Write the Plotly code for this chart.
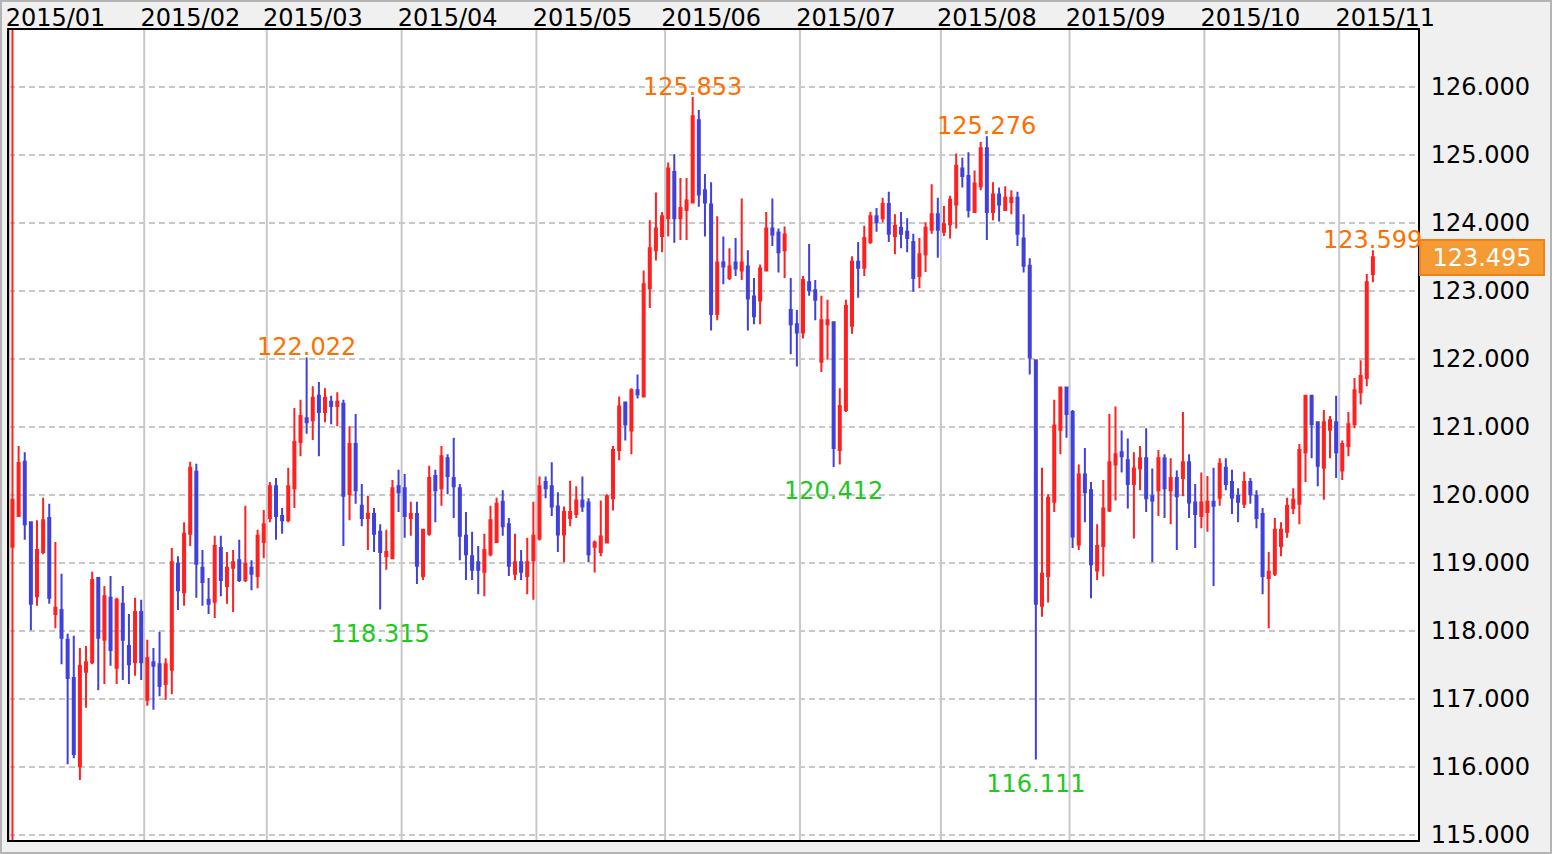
import plotly.graph_objects as go
import pandas as pd

# ---------------- data (USD/JPY daily, 2015-01-01 .. 2015-11-09, weekdays) ----------------
dates = [d.strftime("%Y-%m-%d") for d in pd.bdate_range("2015-01-01", "2015-11-09")]

opens = [
    # Jan
    119.24, 119.69, 120.49, 119.60, 118.51, 119.16, 119.66, 118.25, 118.31, 117.87, 117.31,
    116.01, 117.40, 117.54, 118.78, 117.87, 118.49, 117.46, 118.40, 117.78, 117.54, 118.28,
    # Feb
    116.99, 117.54, 117.51, 117.22, 117.43, 118.99, 118.57, 119.43, 120.34, 118.93,
    118.46, 118.43, 119.22, 118.66, 118.93, 119.04, 118.75, 118.93, 118.81, 119.31,
    # Mar
    119.66, 120.13, 119.69, 119.63, 120.10, 120.78, 121.13, 121.10, 121.46, 121.22, 121.37,
    121.31, 121.34, 120.01, 120.75, 119.84, 119.66, 119.72, 119.46, 119.10, 119.07, 120.13,
    # Apr
    120.10, 119.66, 119.72, 118.81, 119.43, 120.28, 120.10, 120.54, 120.25, 120.10, 119.40,
    119.10, 119.01, 118.87, 119.13, 119.31, 119.90, 119.57, 118.84, 119.01, 118.81, 119.04,
    # May
    119.36, 120.19, 120.13, 119.83, 119.42, 119.66, 119.72, 119.92, 119.89, 119.24, 119.16,
    119.30, 119.95, 120.66, 121.36, 120.95, 121.54, 121.45, 123.04, 123.60, 123.81,
    # Jun
    124.07, 124.75, 124.07, 124.19, 124.30, 125.51, 124.48, 124.27, 122.66, 123.42, 123.19,
    123.42, 123.30, 123.36, 122.92, 122.86, 123.30, 123.92, 123.86, 123.60, 122.72, 122.51,
    # Jul
    122.39, 123.13, 123.01, 121.96, 122.51, 122.54, 120.66, 121.25, 122.49, 123.43, 123.34, 123.72,
    124.10, 124.07, 124.28, 123.81, 123.93, 123.87, 123.72, 123.22, 123.54, 123.90, 124.13,
    # Aug
    123.87, 123.98, 124.27, 124.80, 124.69, 124.16, 124.54, 125.10, 124.16, 124.42, 124.19,
    124.31, 124.37, 123.77, 123.37, 121.98, 118.37, 118.81, 119.90, 120.96, 121.58,
    # Sep
    121.22, 119.27, 120.30, 120.07, 118.89, 119.25, 119.77, 120.45, 120.63, 120.51, 120.16,
    120.39, 120.54, 119.98, 120.07, 120.54, 120.07, 120.25, 120.25, 120.48, 119.89, 119.69,
    # Oct
    119.75, 119.90, 119.96, 120.40, 120.19, 119.99, 119.87, 120.19, 119.99, 119.72, 118.78,
    118.84, 119.25, 119.46, 119.81, 119.87, 120.63, 121.46, 121.07, 120.40, 120.96, 121.07,
    # Nov
    120.36, 120.72, 121.04, 121.51, 121.72, 123.25,
]

highs = [
    # Jan
    128.00, 120.72, 120.63, 119.60, 119.63, 119.96, 119.87, 119.31, 118.84, 117.96, 117.93,
    117.75, 117.78, 118.87, 118.78, 118.66, 118.81, 118.49, 118.66, 118.25, 118.49, 118.46,
    # Feb
    117.87, 117.75, 117.99, 117.60, 119.22, 119.10, 119.60, 120.49, 120.46, 119.19,
    118.78, 119.40, 119.40, 119.16, 119.19, 119.34, 119.84, 119.04, 119.49, 119.78,
    # Mar
    120.19, 120.25, 119.81, 120.40, 121.28, 121.40, 122.022, 121.60, 121.66, 121.57, 121.46,
    121.51, 121.40, 121.01, 121.19, 120.16, 119.99, 119.81, 119.57, 119.49, 120.22, 120.37,
    # Apr
    120.31, 119.90, 119.90, 119.49, 120.43, 120.37, 120.72, 120.60, 120.84, 120.16, 119.75,
    119.46, 119.25, 119.43, 119.84, 119.96, 120.07, 119.66, 119.43, 119.19, 119.37, 119.90,
    # May
    120.27, 120.27, 120.48, 120.04, 119.83, 120.21, 120.13, 120.27, 119.95, 119.33, 119.92,
    120.01, 120.72, 121.45, 121.36, 121.57, 121.77, 123.30, 124.04, 124.45, 124.16,
    # Jun
    124.89, 125.01, 124.66, 124.66, 125.853, 125.66, 124.72, 124.60, 124.10, 123.80, 123.63,
    123.78, 124.36, 123.60, 123.19, 123.39, 124.16, 124.36, 123.92, 123.95, 123.19, 122.72,
    # Jul
    123.22, 123.69, 123.16, 122.93, 122.87, 122.54, 121.57, 122.87, 123.51, 123.72, 123.96, 124.16,
    124.22, 124.37, 124.46, 124.13, 124.16, 124.07, 123.84, 123.78, 124.01, 124.57, 124.37,
    # Aug
    124.25, 124.40, 125.02, 124.96, 125.04, 124.77, 125.19, 125.276, 124.60, 124.52, 124.54,
    124.48, 124.46, 124.13, 123.48, 121.98, 120.40, 120.01, 121.40, 121.58, 121.58,
    # Sep
    121.25, 120.45, 120.69, 120.19, 119.57, 120.22, 121.19, 121.30, 120.95, 120.83, 120.63,
    120.72, 120.98, 120.39, 120.66, 120.60, 120.54, 120.36, 121.22, 120.60, 120.16, 120.33,
    # Oct
    120.28, 120.40, 120.54, 120.54, 120.37, 120.10, 120.34, 120.25, 120.07, 119.81, 119.16,
    119.66, 119.60, 119.96, 120.10, 120.75, 121.46, 121.46, 121.07, 121.25, 121.16, 121.46,
    # Nov
    120.80, 121.22, 121.72, 121.98, 123.25, 123.599,
]

lows = [
    # Jan
    114.00, 119.69, 119.34, 118.01, 118.37, 119.13, 118.40, 118.04, 117.51, 116.04, 116.13,
    115.81, 116.87, 117.51, 117.13, 117.22, 117.49, 117.22, 117.28, 117.22, 117.34, 117.28,
    # Feb
    116.90, 116.84, 117.04, 116.99, 117.07, 118.31, 118.37, 119.25, 118.49, 118.37,
    118.25, 118.19, 118.51, 118.40, 118.28, 118.72, 118.72, 118.60, 118.63, 119.07,
    # Mar
    119.60, 119.34, 119.43, 119.60, 119.81, 120.57, 120.90, 120.81, 120.57, 121.07, 121.04,
    121.01, 119.25, 119.63, 119.87, 119.54, 119.19, 119.16, 118.315, 118.90, 119.07, 119.75,
    # Apr
    119.37, 119.40, 118.69, 118.75, 119.40, 119.60, 119.84, 120.01, 119.66, 119.04, 118.75,
    118.75, 118.54, 118.51, 119.10, 119.31, 119.40, 118.81, 118.75, 118.75, 118.54, 118.46,
    # May
    119.33, 119.95, 119.69, 119.16, 119.01, 119.54, 119.66, 119.75, 119.01, 118.86, 119.10,
    119.30, 119.77, 120.51, 120.80, 120.60, 121.42, 121.45, 122.75, 123.45, 123.57,
    # Jun
    123.80, 123.71, 123.75, 123.75, 124.30, 124.24, 123.80, 122.42, 122.57, 123.10, 123.16,
    123.22, 123.16, 122.42, 122.51, 122.51, 123.30, 123.66, 123.27, 123.19, 122.07, 121.89,
    # Jul
    122.30, 122.93, 122.57, 121.81, 121.99, 120.412, 120.45, 121.22, 122.37, 122.90, 123.22, 123.69,
    123.87, 124.01, 123.72, 123.54, 123.63, 123.57, 122.99, 123.04, 123.28, 123.84, 123.49,
    # Aug
    123.81, 123.77, 123.92, 124.52, 124.08, 124.16, 124.48, 123.75, 124.04, 124.02, 124.19,
    124.13, 123.66, 123.27, 121.77, 116.111, 118.21, 118.42, 119.75, 120.60, 120.84,
    # Sep
    119.22, 119.19, 119.60, 118.48, 118.75, 118.80, 119.75, 119.92, 120.33, 119.80, 119.36,
    120.07, 119.75, 119.01, 119.69, 119.66, 119.57, 119.19, 119.98, 119.66, 119.22, 119.51,
    # Oct
    119.46, 118.66, 119.84, 120.07, 119.72, 119.60, 119.81, 119.87, 119.51, 118.54, 118.04,
    118.81, 119.10, 119.37, 119.72, 119.57, 120.19, 120.54, 120.13, 119.93, 120.54, 120.25,
    # Nov
    120.22, 120.57, 120.98, 121.33, 121.60, 123.13,
]

closes = [
    # Jan
    119.93, 120.47, 119.57, 118.40, 119.19, 119.63, 118.49, 118.34, 117.90, 117.31, 116.19,
    117.49, 117.54, 118.75, 117.90, 118.51, 117.72, 118.46, 117.87, 117.51, 118.28, 117.54,
    # Feb
    117.60, 117.49, 117.19, 117.51, 119.01, 118.60, 119.43, 120.40, 118.99, 118.72,
    118.40, 119.25, 118.75, 118.93, 119.01, 118.75, 118.99, 118.84, 119.40, 119.57,
    # Mar
    120.13, 119.69, 119.63, 120.13, 120.78, 121.16, 121.07, 121.43, 121.22, 121.43, 121.31,
    121.37, 119.99, 120.75, 120.07, 119.66, 119.72, 119.43, 119.16, 119.16, 120.10, 120.04,
    # Apr
    119.69, 119.72, 118.96, 119.49, 120.25, 120.07, 120.57, 120.28, 120.13, 119.40, 119.13,
    118.90, 118.90, 119.19, 119.63, 119.87, 119.54, 118.96, 119.01, 118.87, 119.01, 119.40,
    # May
    120.13, 120.10, 119.83, 119.42, 119.75, 119.75, 119.92, 119.83, 119.13, 119.30, 119.39,
    119.98, 120.66, 121.30, 121.04, 121.54, 121.48, 123.10, 123.63, 123.92, 124.10,
    # Jun
    124.80, 124.07, 124.22, 124.33, 125.57, 124.42, 124.30, 122.66, 123.42, 123.36, 123.36,
    123.33, 123.42, 122.89, 122.63, 123.33, 123.92, 123.83, 123.57, 123.83, 122.51, 122.39,
    # Jul
    123.16, 123.01, 122.87, 122.57, 122.57, 120.69, 121.31, 122.78, 123.43, 123.34, 123.78, 124.10,
    124.01, 124.28, 123.84, 123.96, 123.84, 123.78, 123.19, 123.54, 123.93, 124.13, 123.90,
    # Aug
    123.98, 124.34, 124.84, 124.69, 124.19, 124.58, 125.10, 124.16, 124.42, 124.27, 124.37,
    124.37, 123.84, 123.37, 122.02, 118.40, 118.84, 119.96, 121.02, 121.58, 121.19,
    # Sep
    119.39, 120.30, 120.04, 118.98, 119.25, 119.80, 120.48, 120.60, 120.57, 120.16, 120.39,
    120.54, 119.95, 119.92, 120.54, 120.10, 120.25, 119.98, 120.48, 119.89, 119.72, 119.89,
    # Oct
    119.90, 119.84, 120.46, 120.16, 119.96, 119.90, 120.19, 120.01, 119.66, 118.81, 118.87,
    119.49, 119.49, 119.84, 119.93, 120.66, 121.46, 121.04, 120.43, 121.07, 121.10, 120.63,
    # Nov
    120.75, 121.04, 121.54, 121.75, 123.13, 123.495,
]

month_starts = ["2015-01-01", "2015-02-02", "2015-03-02", "2015-04-01", "2015-05-01", "2015-06-01",
                "2015-07-01", "2015-08-03", "2015-09-01", "2015-10-01", "2015-11-02"]
month_labels = ["2015/01", "2015/02", "2015/03", "2015/04", "2015/05", "2015/06",
                "2015/07", "2015/08", "2015/09", "2015/10", "2015/11"]
y_ticks = [115, 116, 117, 118, 119, 120, 121, 122, 123, 124, 125, 126]

peak_dates = ["2015-03-10", "2015-06-05", "2015-08-12", "2015-11-09"]
peak_values = [122.022, 125.853, 125.276, 123.599]
trough_dates = ["2015-03-26", "2015-07-08", "2015-08-24"]
trough_values = [118.315, 120.412, 116.111]
last_price = 123.495

# ---------------- figure ----------------
RED = "#FF2020"
BLUE = "#4040DC"
GRID = "#c8c8c8"
FONT = "DejaVu Sans"

fig = go.Figure()
fig.add_trace(go.Candlestick(
    x=dates, open=opens, high=highs, low=lows, close=closes,
    increasing=dict(line=dict(color=RED, width=2), fillcolor=RED),
    decreasing=dict(line=dict(color=BLUE, width=2), fillcolor=BLUE),
    whiskerwidth=0, hoverinfo="skip", showlegend=False,
))
fig.add_trace(go.Scatter(
    x=trough_dates, y=trough_values, mode="markers+text",
    marker=dict(size=21, color="rgba(0,0,0,0)"),
    text=[f"{v:.3f}" for v in trough_values], textposition="bottom center",
    textfont=dict(family=FONT, size=24, color="#20C820"),
    cliponaxis=True, hoverinfo="skip", showlegend=False,
))

W, H = 1552, 854
ML, MR, MT, MB = 9, 134, 30, 14
PW, PH = W - ML - MR, H - MT - MB

fig.update_layout(
    width=W, height=H,
    margin=dict(l=ML, r=MR, t=MT, b=MB, pad=0, autoexpand=False),
    paper_bgcolor="#f0f0f0", plot_bgcolor="white",
    font=dict(family=FONT, size=24, color="black"),
    showlegend=False, hovermode=False,
    boxgap=0.67, boxgroupgap=0,
    xaxis=dict(
        type="category", range=[-0.57, 229.36], side="top",
        tickmode="array", tickvals=month_starts, ticktext=month_labels,
        ticks="", tickangle=0, automargin=False,
        ticklabelshift=43, ticklabelstandoff=-8,
        showgrid=False,
        showline=True, mirror=True, linecolor="black", linewidth=2,
        zeroline=False, fixedrange=True,
        rangeslider=dict(visible=False),
        tickfont=dict(family=FONT, size=24, color="black"),
    ),
    yaxis=dict(
        side="right", range=[114.926, 126.838], automargin=False,
        tickmode="array", tickvals=y_ticks, tickformat=".3f", ticks="",
        ticklabelstandoff=6,
        showgrid=True, gridcolor=GRID, gridwidth=1.5, griddash="6px,4px",
        showline=True, mirror=True, linecolor="black", linewidth=2,
        zeroline=False, fixedrange=True,
        tickfont=dict(family=FONT, size=24, color="black"),
    ),
)

# month separators at the boundary before the first trading day of each month
for m in month_starts:
    xb = dates.index(m) - 0.5
    fig.add_shape(type="line", xref="x", yref="paper", x0=xb, x1=xb, y0=0, y1=1,
                  line=dict(color=GRID, width=2), layer="below")

# peak labels (just above the high of the candle)
for d, v in zip(peak_dates, peak_values):
    fig.add_annotation(
        xref="x", x=d, yref="y", y=v, yanchor="bottom", yshift=-6,
        text=f"{v:.3f}", showarrow=False,
        font=dict(family=FONT, size=24, color="#FF6E00"),
    )

# current price box on the right axis
fig.add_annotation(
    xref="paper", x=1, xanchor="left", xshift=1,
    yref="y", y=last_price, yanchor="middle",
    text=f"{last_price:.3f}", showarrow=False,
    font=dict(family=FONT, size=24, color="white"),
    bgcolor="#F59B33", bordercolor="#EE8419", borderwidth=2, borderpad=2,
    width=118, height=29,
)

# outer frame of the picture
fig.add_shape(
    type="rect", xref="paper", yref="paper",
    x0=(1 - ML) / PW, x1=(W - 1 - ML) / PW,
    y0=-(MB - 1) / PH, y1=1 + (MT - 1) / PH,
    line=dict(color="#b4b4b4", width=2), fillcolor="rgba(0,0,0,0)", layer="below",
)

fig.write_html("out.html", config={"displayModeBar": False},
               post_script="document.body.style.margin='0px';")
